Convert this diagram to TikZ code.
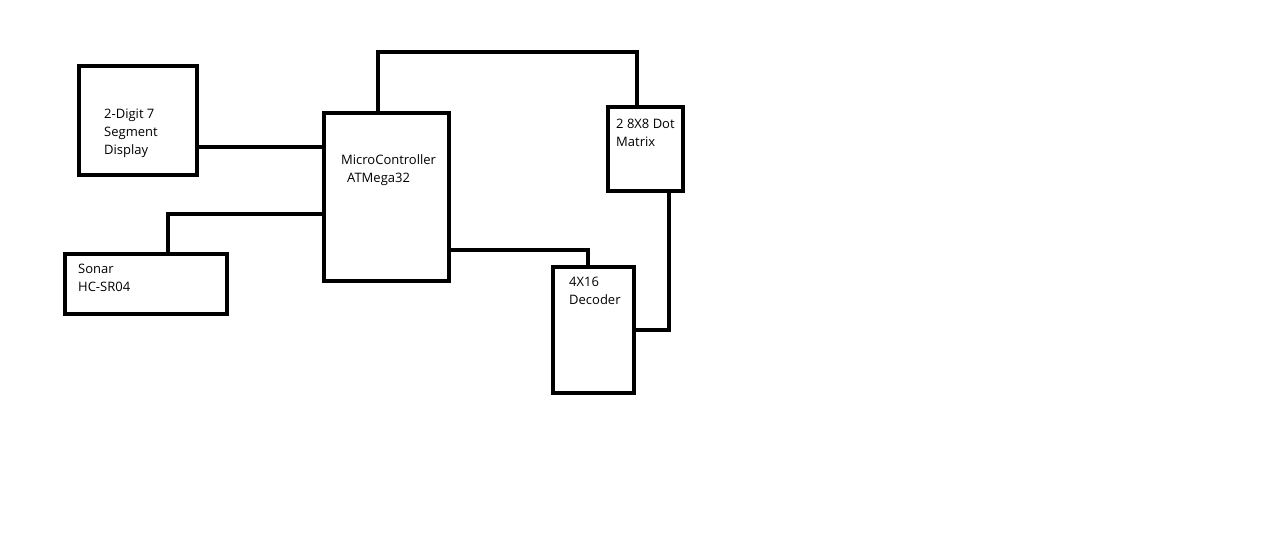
\documentclass[tikz,border=0pt]{standalone}
\usepackage{fontspec}
\setmainfont{Open Sans}
\begin{document}
\begin{tikzpicture}[x=1pt,y=-1pt,
  blk/.style={draw=black,line width=4.8pt,inner sep=0pt,rectangle},
  wire/.style={draw=black,line width=4.8pt,line join=miter},
  lbl/.style={anchor=north west,inner sep=0pt,align=left,font=\fontsize{13pt}{18pt}\selectfont}]
\fill[white] (0,0) rectangle (1270,549);
\useasboundingbox (0,0) rectangle (1270,549);
% boxes
\node[blk,minimum width=118pt,minimum height=109pt] (disp) at (138,120.5) {};
\node[blk,minimum width=162pt,minimum height=60pt] (sonar) at (146,284) {};
\node[blk,minimum width=125pt,minimum height=168pt] (mcu) at (386.5,197) {};
\node[blk,minimum width=75pt,minimum height=84pt] (dot) at (645.5,149) {};
\node[blk,minimum width=81pt,minimum height=126pt] (dec) at (593.5,330) {};
% labels
\node[lbl] (tdisp) at (104,109) {2-Digit 7\\Segment\\Display};
\node[lbl] (tsonar) at (78,264) {Sonar\\HC-SR04};
\node[lbl] (tmcu1) at (341,154) {MicroController};
\node[lbl] (tmcu2) at (347,173) {ATMega32};
\node[lbl] (tdot) at (616,119) {2 8X8 Dot\\Matrix};
\node[lbl] (tdec) at (569,277) {4X16\\Decoder};
% connectors
\draw[wire] (disp.east |- 0,147) -- (mcu.west |- 0,147);
\draw[wire] (sonar.north -| 168,0) |- (mcu.west |- 0,214);
\draw[wire] (mcu.north -| 378,0) -- (378,52) -| (dot.north -| 637,0);
\draw[wire] (mcu.east |- 0,250) -| (dec.north -| 588,0);
\draw[wire] (dec.east |- 0,330) -| (dot.south -| 669,0);
\end{tikzpicture}
\end{document}
